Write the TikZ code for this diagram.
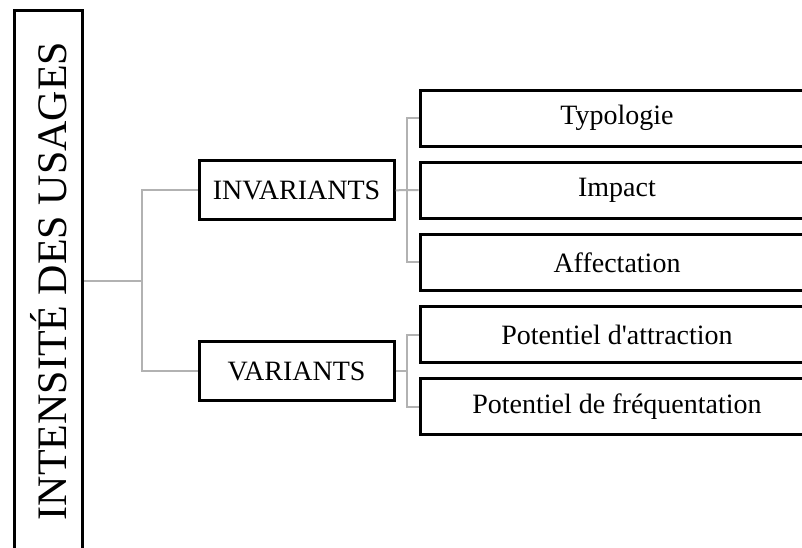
\documentclass[tikz,border=0pt]{standalone}
\usepackage{fontspec}
\setmainfont{Liberation Serif}
\usepackage{tikz}
\usetikzlibrary{positioning,calc}
\tikzstyle{titlebox}=[rectangle,fill=white,draw=black,line width=1.5pt,minimum width=34pt,minimum height=271pt,inner sep=0pt]
\tikzstyle{group}=[rectangle,fill=white,draw=black,line width=1.5pt,minimum width=97.5pt,minimum height=29.5pt,inner sep=0pt,font=\fontsize{14}{16}\selectfont]
\tikzstyle{item}=[rectangle,fill=white,draw=black,line width=1.5pt,minimum width=197pt,minimum height=28pt,inner sep=0pt,font=\fontsize{14}{16}\selectfont]
\tikzstyle{link}=[draw=gray!60,line width=1pt]
\def\blockdist{6.6pt}

\begin{document}
\begin{tikzpicture}[x=0.5pt,y=-0.5pt]
		\clip (0,0) rectangle (802,547);

		% title
		\node[titlebox] (usages) at (48.75,281) {\rotatebox{90}{\fontsize{21}{24}\selectfont INTENSITÉ DES USAGES}};

		% groups
		\node[group] (inv) at (296.5,190.25) {INVARIANTS};
		\node[group] (var) at (296.5,371) {VARIANTS};

		% items
		\node[item] (typo) at (617,118) {Typologie};
		\node[item,below=\blockdist of typo] (impact) {Impact};
		\node[item,below=\blockdist of impact] (affect) {Affectation};
		\node[item,below=\blockdist of affect] (attr) {Potentiel d\textquotesingle attraction};
		\node[item,below=\blockdist of attr] (freq) {Potentiel de fréquentation};

		% Connections
		\draw[link] (usages.east) -- ++(58,0) coordinate (fork);
		\draw[link] (inv.west) -| (fork) |- (var.west);
		\coordinate (ifork) at ($(inv.east)!0.5!(impact.west)$);
		\draw[link] (inv.east) -- (impact.west);
		\draw[link] (typo.west) -| (ifork) |- (affect.west);
		\coordinate (vfork) at ($(var.east)!0.5!(var.east -| attr.west)$);
		\draw[link] (var.east) -- (vfork);
		\draw[link] (attr.west) -| (vfork) |- (freq.west);
\end{tikzpicture}
\end{document}
